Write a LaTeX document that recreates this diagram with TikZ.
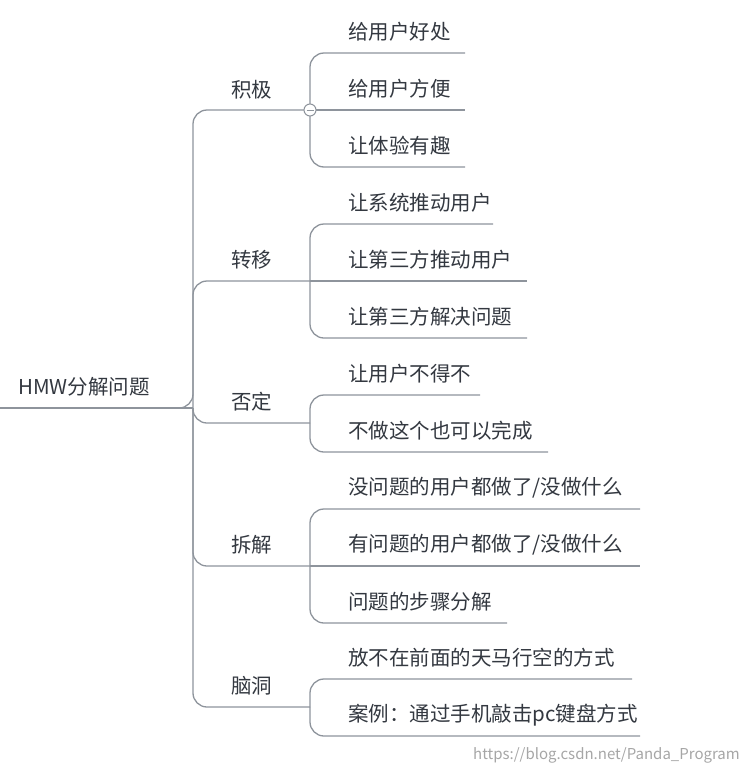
\documentclass[tikz,border=0pt]{standalone}
\usepackage{fontspec}
\setmainfont{Noto Sans CJK SC}
\usepackage{tikz}
\definecolor{linegray}{HTML}{8E949C}
\definecolor{textgray}{HTML}{333840}
\tikzset{
  topic/.style={anchor=west, inner sep=0pt, text=textgray, font=\fontsize{20.5pt}{23pt}\selectfont},
  link/.style={draw=linegray, line width=1.3pt, rounded corners=14pt},
  uline/.style={draw=linegray, line width=1.3pt}
}
\begin{document}
\begin{tikzpicture}[x=1pt,y=-1pt]
\useasboundingbox (0,0) rectangle (744,774);

% root
\node[topic] (root) at (18,387) {HMW分解问题};
\coordinate (rootend) at (193,408);
\draw[uline] (0,408) -- (rootend);

% first level
\node[topic] (jiji)  at (231,90)  {积极};
\node[topic] (zhuanyi) at (231,260) {转移};
\node[topic] (fouding) at (231,402) {否定};
\node[topic] (chaijie) at (231,545) {拆解};
\node[topic] (naodong) at (231,686) {脑洞};

\coordinate (jijiE) at (310,110);
\coordinate (zhuanyiE) at (310,281);
\coordinate (foudingE) at (310,423);
\coordinate (chaijieE) at (310,566);
\coordinate (naodongE) at (310,707);

\draw[link] (168,408) -- (rootend) |- (jijiE);
\draw[link] (rootend) |- (zhuanyiE);
\draw[link] (rootend) |- (foudingE);
\draw[link] (rootend) |- (chaijieE);
\draw[link] (rootend) |- (naodongE);

% second level: 积极
\node[topic] (a1) at (348,32)  {给用户好处};
\node[topic] (a2) at (348,89)  {给用户方便};
\node[topic] (a3) at (348,146) {让体验有趣};
\draw[link] (jijiE) |- (465,53);
\draw[uline] (jijiE) -- (465,110);
\draw[link] (jijiE) |- (465,167);

% 转移
\node[topic] (b1) at (348,203) {让系统推动用户};
\node[topic] (b2) at (348,260) {让第三方推动用户};
\node[topic] (b3) at (348,317) {让第三方解决问题};
\draw[link] (zhuanyiE) |- (493,224);
\draw[uline] (zhuanyiE) -- (527,281);
\draw[link] (zhuanyiE) |- (527,338);

% 否定
\node[topic] (c1) at (348,374) {让用户不得不};
\node[topic] (c2) at (348,431) {不做这个也可以完成};
\draw[link] (foudingE) |- (480,395);
\draw[link] (foudingE) |- (548,452);

% 拆解
\node[topic] (d1) at (348,488) {没问题的用户都做了/没做什么};
\node[topic] (d2) at (348,545) {有问题的用户都做了/没做什么};
\node[topic] (d3) at (348,602) {问题的步骤分解};
\draw[link] (chaijieE) |- (640,509);
\draw[uline] (chaijieE) -- (640,566);
\draw[link] (chaijieE) |- (507,623);

% 脑洞
\node[topic] (e1) at (348,658) {放不在前面的天马行空的方式};
\node[topic] (e2) at (348,715) {案例：通过手机敲击pc键盘方式};
\draw[link] (naodongE) |- (632,679);
\draw[link] (naodongE) |- (640,736);

% collapse marker
\node[circle, draw=linegray, fill=white, line width=1pt, minimum size=12pt, inner sep=0pt] (fold) at (jijiE) {};
\draw[linegray, line width=1pt] ([xshift=-3.5pt]fold.center) -- ([xshift=3.5pt]fold.center);

% watermark
\node[anchor=east, inner sep=0pt, text=gray!70, font=\fontsize{15pt}{17pt}\selectfont] (mark) at (740,755) {https://blog.csdn.net/Panda\_Program};
\end{tikzpicture}
\end{document}
